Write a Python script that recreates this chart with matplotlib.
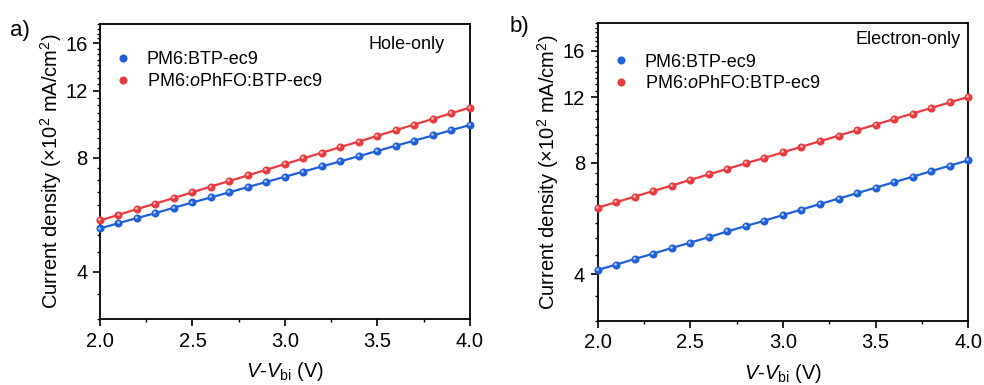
import matplotlib
matplotlib.use("Agg")
import matplotlib.pyplot as plt
from matplotlib.lines import Line2D
from matplotlib.ticker import FixedLocator, MultipleLocator, FormatStrFormatter, NullFormatter
from matplotlib.transforms import ScaledTranslation

plt.rcParams['font.family'] = ['Liberation Sans', 'DejaVu Sans']
plt.rcParams['mathtext.fontset'] = 'custom'
plt.rcParams['mathtext.rm'] = 'Liberation Sans'
plt.rcParams['mathtext.it'] = 'Liberation Sans:italic'
plt.rcParams['mathtext.bf'] = 'Liberation Sans:bold'

# ---- data ----
voltage = [2.0, 2.1, 2.2, 2.3, 2.4, 2.5, 2.6, 2.7, 2.8, 2.9, 3.0,
           3.1, 3.2, 3.3, 3.4, 3.5, 3.6, 3.7, 3.8, 3.9, 4.0]

hole_ref = [5.20, 5.37, 5.54, 5.71, 5.90, 6.09, 6.28, 6.48, 6.69, 6.90, 7.12,
            7.35, 7.58, 7.82, 8.07, 8.33, 8.60, 8.87, 9.15, 9.45, 9.75]
hole_oph = [5.46, 5.65, 5.85, 6.05, 6.26, 6.48, 6.71, 6.94, 7.18, 7.43, 7.69,
            7.96, 8.24, 8.53, 8.82, 9.13, 9.45, 9.78, 10.12, 10.47, 10.84]

elec_ref = [4.11, 4.25, 4.40, 4.55, 4.71, 4.87, 5.04, 5.22, 5.40, 5.58, 5.78,
            5.98, 6.19, 6.40, 6.62, 6.85, 7.09, 7.33, 7.59, 7.85, 8.12]
elec_oph = [6.05, 6.26, 6.48, 6.71, 6.94, 7.19, 7.44, 7.70, 7.97, 8.24, 8.53,
            8.83, 9.14, 9.46, 9.79, 10.13, 10.49, 10.85, 11.23, 11.63, 12.03]

labels = ['PM6:BTP-ec9', 'PM6:$\\it{o}$PhFO:BTP-ec9']
panel_titles = ['Hole-only', 'Electron-only']
panel_tags = ['a)', 'b)']
yticks = [4, 8, 12, 16]
xticks = [2.0, 2.5, 3.0, 3.5, 4.0]

blue = '#1f5fd8'
red = '#e83a3f'
blue_hi = '#a9c4f5'
red_hi = '#f8b8b8'

fig = plt.figure(figsize=(9.84, 3.85), dpi=100)

axes_rects = [[0.1016, 0.1714, 0.376, 0.766],
              [0.6074, 0.1670, 0.3766, 0.7725]]
ylims = [(3, 18), (3, 19)]
series = [(hole_ref, hole_oph), (elec_ref, elec_oph)]
title_pos = [(0.932, 0.93), (0.98, 0.944)]
leg_anchor = [(0.0, 0.95), (0.0, 0.94)]
tag_pos = [(0.010, 0.92), (0.518, 0.93)]

for i in range(2):
    ax = fig.add_axes(axes_rects[i])
    ax.set_yscale('log')
    for ys, c, hc in zip(series[i], [blue, red], [blue_hi, red_hi]):
        ax.plot(voltage, ys, '-', color=c, lw=1.6, zorder=2)
        ax.plot(voltage, ys, 'o', color=c, ms=5.8, mec=c, mew=0, zorder=3, clip_on=False)
        off = ax.transData + ScaledTranslation(-0.7 / 72, 0.7 / 72, fig.dpi_scale_trans)
        ax.plot(voltage, ys, 'o', color=hc, ms=2.0, mew=0, transform=off, zorder=4, clip_on=False)
    ax.set_xlim(2.0, 4.0)
    ax.set_ylim(*ylims[i])
    ax.yaxis.set_major_locator(FixedLocator(yticks))
    ax.yaxis.set_major_formatter(FormatStrFormatter('%d'))
    ax.yaxis.set_minor_locator(MultipleLocator(0.5))
    ax.yaxis.set_minor_formatter(NullFormatter())
    ax.xaxis.set_major_locator(FixedLocator(xticks))
    ax.xaxis.set_major_formatter(FormatStrFormatter('%.1f'))
    ax.xaxis.set_minor_locator(MultipleLocator(0.25))
    ax.tick_params(which='major', direction='out', length=5, width=1.2, labelsize=14.5, pad=4)
    ax.tick_params(which='minor', direction='out', length=2.5, width=1.0)
    for sp in ax.spines.values():
        sp.set_linewidth(1.3)
    ax.set_xlabel('$\\it{V}$-$\\it{V}$$_\\mathregular{bi}$ (V)', fontsize=14.5, labelpad=7)
    ax.set_ylabel('Current density (\u00d710$^\\mathregular{2}$ mA/cm$^\\mathregular{2}$)', fontsize=14.5, labelpad=1)
    ax.text(title_pos[i][0], title_pos[i][1], panel_titles[i], transform=ax.transAxes,
            ha='right', va='center', fontsize=13)
    handles = [Line2D([], [], ls='none', marker='o', ms=5.8, color=c, mew=0) for c in [blue, red]]
    ax.legend(handles, labels, loc='upper left', bbox_to_anchor=leg_anchor[i], frameon=False,
              fontsize=13, handlelength=1.2, handletextpad=0.7, labelspacing=0.25, borderaxespad=0.3)
    fig.text(tag_pos[i][0], tag_pos[i][1], panel_tags[i], fontsize=16, ha='left', va='center')

fig.savefig('out.png', dpi=100)
